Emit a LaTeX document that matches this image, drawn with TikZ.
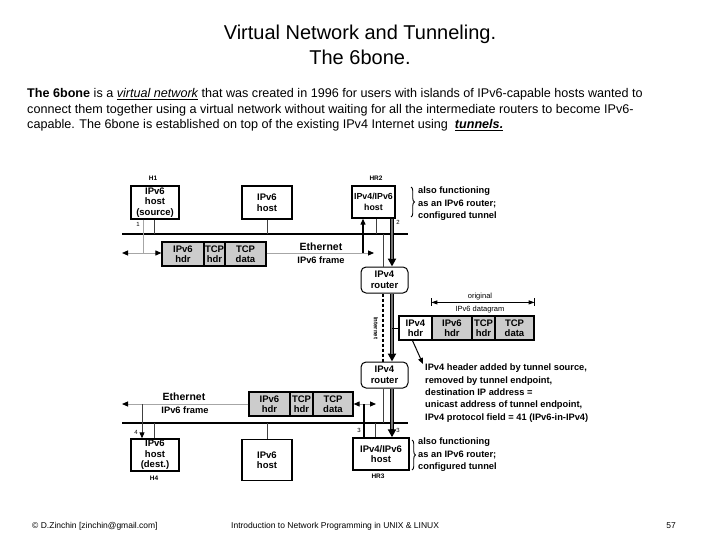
\documentclass[tikz,border=0pt]{standalone}
\usepackage{fontspec}
\setmainfont{Liberation Sans}
\usetikzlibrary{arrows.meta,decorations.pathreplacing,calc}
\begin{document}
\begin{tikzpicture}[x=1pt,y=-1pt]
\tikzset{
  lbl/.style={font=\fontsize{9.3}{12.5}\selectfont\bfseries, inner sep=0pt, align=left},
  tiny/.style={font=\fontsize{6.5}{7}\selectfont\bfseries, inner sep=0pt},
  hostbox/.style={draw, line width=1.4pt, fill=white, inner sep=0pt, align=center, font=\fontsize{9.5}{10.5}\selectfont\bfseries},
  rbox/.style={hostbox, rounded corners=5pt, line width=1pt},
  cell/.style={draw, line width=1.2pt, fill=gray!40, inner sep=0pt, align=center, minimum height=24pt, font=\fontsize{9.5}{10}\selectfont\bfseries},
  ether/.style={line width=2.2pt},
  stub/.style={line width=0.9pt, black!75},
  fr/.style={line width=1pt, black!35},
  tip/.style={-{Triangle[length=6pt,width=5pt,black]}},
  tun/.style={line width=4pt, draw=black, -{Triangle[length=8pt,width=8pt]},
    postaction={draw=black!55, line width=2pt, shorten >=8pt, -}},
  brc/.style={decorate, decoration={brace, amplitude=3.5pt}, line width=0.9pt},
}
\useasboundingbox (0,0) rectangle (720,540);
\fill[white] (0,0) rectangle (720,540);

% Title
\node[font=\fontsize{20}{25}\selectfont, align=center] (title) at (360,45) {Virtual Network and Tunneling.\\The 6bone.};

% Paragraph
\begin{scope}[every node/.style={anchor=west, inner sep=0pt, font=\fontsize{12.6}{14}\selectfont}]
\node (pl1) at (27,94) {\textbf{The 6bone} is a \textit{\underline{virtual network}} that was created in 1996 for users with islands of IPv6-capable hosts wanted to};
\node (pl2) at (27,110) {connect them together using a virtual network without waiting for all the intermediate routers to become IPv6-};
\node (pl3) at (27,125) {capable. The 6bone is established on top of the existing IPv4 Internet using \ \textbf{\textit{\underline{tunnels.}}}};
\end{scope}

% helper x positions
\coordinate (tx) at (392,0);
\coordinate (ix) at (383,0);

% Top hosts
\node[hostbox, minimum width=48pt, minimum height=33pt] (h1) at (155,202.5) {IPv6\\host\\(source)};
\node[hostbox, minimum width=50pt, minimum height=33pt] (hb) at (267,202.5) {IPv6\\host};
\node[hostbox, minimum width=43pt, minimum height=32pt, font=\fontsize{8.8}{10.5}\selectfont\bfseries] (hr2) at (373.5,202) {IPv4/IPv6\\host};
\node[tiny] (lh1) at (153,178) {H1};
\node[tiny] (lhr2) at (376,178) {HR2};

% Top ethernet
\coordinate (eTL) at (122,234);
\coordinate (eTR) at (408,234);
\draw[ether] (eTL) -- (eTR);
\draw[stub] (h1.south -| 154,0) -- (154,234);
\draw[stub] (hb.south) -- (hb.south |- eTL);
\draw[stub] (hr2.south -| 376,0) -- (376,234);

% top packet
\node[cell, minimum width=42pt] (p1a) at (183,254) {IPv6\\hdr};
\node[cell, minimum width=21pt] (p1b) at (214.5,254) {TCP\\hdr};
\node[cell, minimum width=41pt] (p1c) at (245.5,254) {TCP\\data};

% top frame line
\coordinate (fTL) at (122,253);
\coordinate (fTR) at (374,253);
\coordinate (fT1) at (143,253);
\coordinate (fT2) at (363,253);
\draw[fr] (h1.south -| fT1) -- (fT1);
\draw[fr, tip] (fT1) -- (fTL);
\draw[fr, tip] (fT1) -- (p1a.west |- fT1);
\draw[fr, tip] (p1c.east |- fT1) -- (fTR);
\draw[line width=1.2pt, tip] (fT2) -- (hr2.south -| fT2);
\node[font=\fontsize{10.5}{12}\selectfont\bfseries, inner sep=0pt] (eth1) at (321,247) {Ethernet};
\node[font=\fontsize{9.3}{11}\selectfont\bfseries, inner sep=0pt] (fr1) at (321,260) {IPv6 frame};
\node[font=\fontsize{6}{6}\selectfont, inner sep=0pt] (n1) at (138,224) {1};
\node[font=\fontsize{6}{6}\selectfont, inner sep=0pt] (n2) at (398,222) {2};

% braces top
\draw[brc] (411,187) -- (411,217);
\node[lbl, anchor=north west] (bt) at (418,187) {also functioning\\as an IPv6 router;\\configured tunnel};

% routers
\node[rbox, minimum width=47pt, minimum height=26pt] (r1) at (384.5,280) {IPv4\\router};
\node[rbox, minimum width=47pt, minimum height=26pt] (r2) at (384.5,375) {IPv4\\router};
\draw[stub] (ix |- eTL) -- (r1.north -| ix);
\draw[line width=1.3pt, dashed, dash pattern=on 3pt off 2pt] (r1.south -| ix) -- (r2.north -| ix);
\node[tiny, font=\fontsize{6}{7}\selectfont\bfseries, rotate=-90] (inet) at (376,328) {Internet};

% tunnel arrows
\draw[tun] (hr2.south -| tx) -- (r1.north -| tx);
\draw[tun] (r1.south -| tx) -- (r2.north -| tx);

% middle packet
\node[cell, minimum width=33pt, fill=white] (p2a) at (415.5,328) {IPv4\\hdr};
\node[cell, minimum width=40pt] (p2b) at (452,328) {IPv6\\hdr};
\node[cell, minimum width=23pt] (p2c) at (483.5,328) {TCP\\hdr};
\node[cell, minimum width=39pt] (p2d) at (514.5,328) {TCP\\data};
\draw[line width=1pt] (p2a.west -| tx) -- (p2a.west);
\coordinate (dl) at ($(p2b.north west)+(0,-13)$);
\coordinate (dr) at ($(p2d.north east)+(0,-13)$);
\draw[line width=0.9pt, {Triangle[length=6pt,width=4pt]}-{Triangle[length=6pt,width=4pt]}] (dl) -- (dr);
\draw[line width=0.9pt] ($(dl)+(0,-4)$) -- ($(dl)+(0,4)$);
\draw[line width=0.9pt] ($(dr)+(0,-4)$) -- ($(dr)+(0,4)$);
\node[font=\fontsize{7.5}{8}\selectfont, inner sep=0pt] (orig) at (480,297) {original};
\node[font=\fontsize{7.5}{8}\selectfont, inner sep=0pt, fill=white, inner xsep=1pt] (dg) at (480,310) {IPv6 datagram};

% note
\node[lbl, anchor=north west, font=\fontsize{9.3}{12.3}\selectfont\bfseries] (note) at (425,364) {IPv4 header added by tunnel source,\\removed by tunnel endpoint,\\destination IP address =\\unicast address of tunnel endpoint,\\IPv4 protocol field = 41 (IPv6-in-IPv4)};
\draw[line width=1pt, tip] ([xshift=-3pt]p2a.south) -- ([xshift=-2pt]note.north west);

% bottom hosts
\node[hostbox, minimum width=48pt, minimum height=32pt] (h4) at (155,455) {IPv6\\host\\(dest.)};
\node[hostbox, minimum width=50pt, minimum height=41pt] (hb2) at (267,460) {IPv6\\host};
\node[hostbox, minimum width=56pt, minimum height=32pt] (hr3) at (381,454) {IPv4/IPv6\\host};
\node[tiny] (lh4) at (154,478) {H4};
\node[tiny] (lhr3) at (378,476) {HR3};

% bottom ethernet
\coordinate (eBL) at (122,423);
\coordinate (eBR) at (408,423);
\draw[ether] (eBL) -- (eBR);
\draw[stub] (154,423) -- (h4.north -| 154,0);
\draw[stub] (hb2.north |- eBL) -- (hb2.north);
\draw[stub] (375,423) -- (hr3.north -| 375,0);
\draw[stub] (r2.south -| ix) -- (ix |- eBL);
\draw[tun] (r2.south -| tx) -- (hr3.north -| tx);

% bottom packet
\node[cell, minimum width=41pt] (p3a) at (269.5,404) {IPv6\\hdr};
\node[cell, minimum width=23pt] (p3b) at (301.5,404) {TCP\\hdr};
\node[cell, minimum width=40pt] (p3c) at (333,404) {TCP\\data};

% bottom frame line
\coordinate (fBL) at (122,404);
\coordinate (fB1) at (142,404);
\coordinate (fB2) at (364,404);
\coordinate (fBR) at (376,404);
\draw[fr, tip] (p3a.west |- fBL) -- (fBL);
\draw[stub, tip] (fB1) -- (h4.north -| fB1);
\draw[fr, tip] (fB2) -- (p3c.east |- fB2);
\draw[fr, tip] (fB2) -- (fBR);
\draw[line width=1.2pt] (fB2) -- (hr3.north -| fB2);
\node[font=\fontsize{10.5}{12}\selectfont\bfseries, inner sep=0pt] (eth2) at (184,397) {Ethernet};
\node[font=\fontsize{9.3}{11}\selectfont\bfseries, inner sep=0pt] (fr2) at (185,410) {IPv6 frame};
\node[font=\fontsize{6}{6}\selectfont, inner sep=0pt] (n4) at (136,432) {4};
\node[font=\fontsize{6}{6}\selectfont, inner sep=0pt] (n3a) at (359,430) {3};
\node[font=\fontsize{6}{6}\selectfont, inner sep=0pt] (n3b) at (398,430) {3};

% brace bottom
\draw[brc] (412,440) -- (412,470);
\node[lbl, anchor=north west] (bb) at (418,438) {also functioning\\as an IPv6 router;\\configured tunnel};

% footer
\node[font=\fontsize{8.5}{10}\selectfont, anchor=west, inner sep=0pt] (f1) at (32,526) {© D.Zinchin [zinchin@gmail.com]};
\node[font=\fontsize{8.5}{10}\selectfont, anchor=west, inner sep=0pt] (f2) at (231,526) {Introduction to Network Programming in UNIX \& LINUX};
\node[font=\fontsize{8.5}{10}\selectfont, inner sep=0pt] (f3) at (671,526) {57};
\end{tikzpicture}
\end{document}
